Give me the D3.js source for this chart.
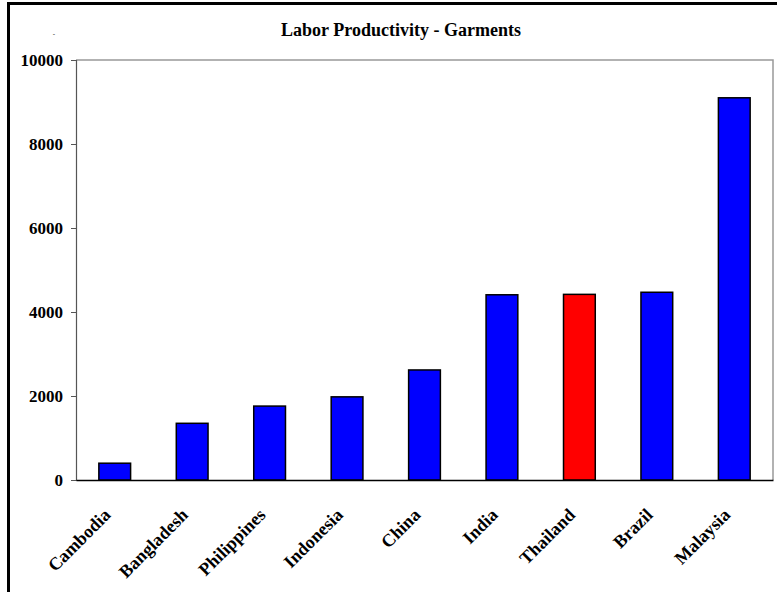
<!DOCTYPE html>
<html>
<head>
<meta charset="utf-8">
<script src="https://cdn.jsdelivr.net/npm/d3@7"></script>
<style>
  html, body { margin: 0; padding: 0; background: #fff; }
  svg { display: block; }
  text { font-family: "Liberation Serif", "Times New Roman", serif; font-weight: bold; fill: #000; }
</style>
</head>
<body>
<svg id="chart" width="777" height="592"></svg>
<script>
// Labor productivity in garment manufacturing by country
const countries = ["Cambodia", "Bangladesh", "Philippines", "Indonesia", "China", "India", "Thailand", "Brazil", "Malaysia"];
const productivity = [400, 1350, 1760, 1980, 2620, 4410, 4420, 4470, 9100];
const highlighted = ["Thailand"];
const yTicks = [0, 2000, 4000, 6000, 8000, 10000];
const chartTitle = "Labor Productivity - Garments";

const svg = d3.select("#chart");
const plot = { left: 76, right: 773, top: 60, bottom: 480 };

// outer frame edges
svg.append("line").attr("x1", 8.5).attr("x2", 8.5).attr("y1", 2).attr("y2", 592)
  .attr("stroke", "#000").attr("stroke-width", 3);
svg.append("line").attr("x1", 7).attr("x2", 777).attr("y1", 3.5).attr("y2", 3.5)
  .attr("stroke", "#000").attr("stroke-width", 3);

const x = d3.scaleBand()
  .domain(countries)
  .range([plot.left, plot.right])
  .paddingInner(0.59)
  .paddingOuter(0.295);

const y = d3.scaleLinear()
  .domain([0, 10000])
  .range([plot.bottom, plot.top]);

// plot area border (top and right)
svg.append("path")
  .attr("d", `M${plot.left},${plot.top}H${plot.right}V${plot.bottom}`)
  .attr("fill", "none").attr("stroke", "#999").attr("stroke-width", 1.5);

// bars
svg.append("g").selectAll("rect")
  .data(countries.map((c, i) => ({ c, v: productivity[i] })))
  .join("rect")
  .attr("x", d => x(d.c))
  .attr("width", x.bandwidth())
  .attr("y", d => y(d.v))
  .attr("height", d => y(0) - y(d.v))
  .attr("fill", d => highlighted.includes(d.c) ? "#ff0000" : "#0000ff")
  .attr("stroke", "#000").attr("stroke-width", 1.5);

// y axis
const yAxis = svg.append("g")
  .attr("transform", `translate(${plot.left},0)`)
  .call(d3.axisLeft(y).tickValues(yTicks).tickSize(5).tickPadding(8).tickFormat(d3.format("d")));
yAxis.select(".domain").attr("stroke", "#555").attr("stroke-width", 1.2);
yAxis.selectAll(".tick line").attr("stroke", "#555");
yAxis.selectAll("text")
  .style("font-size", "17px").style("font-family", "'Liberation Serif', serif").style("font-weight", "bold")
  .attr("dy", "0.34em");

// x axis
const xAxis = svg.append("g")
  .attr("transform", `translate(0,${plot.bottom})`)
  .call(d3.axisBottom(x).tickSize(0).tickPadding(0));
xAxis.select(".domain").attr("stroke", "#000").attr("stroke-width", 1.5);
xAxis.selectAll(".tick text")
  .style("font-size", "18px").style("font-family", "'Liberation Serif', serif").style("font-weight", "bold")
  .attr("text-anchor", "end")
  .attr("transform", "translate(-3,36) rotate(-45)")
  .attr("dy", 0).attr("y", 0).attr("x", 0);

// title
svg.append("text")
  .attr("x", 401).attr("y", 36)
  .attr("text-anchor", "middle")
  .style("font-size", "18px")
  .text(chartTitle);

// small mark at upper left
svg.append("text")
  .attr("x", 54).attr("y", 36)
  .attr("text-anchor", "middle")
  .style("font-size", "7px").style("font-weight", "normal")
  .text("-");
</script>
</body>
</html>
